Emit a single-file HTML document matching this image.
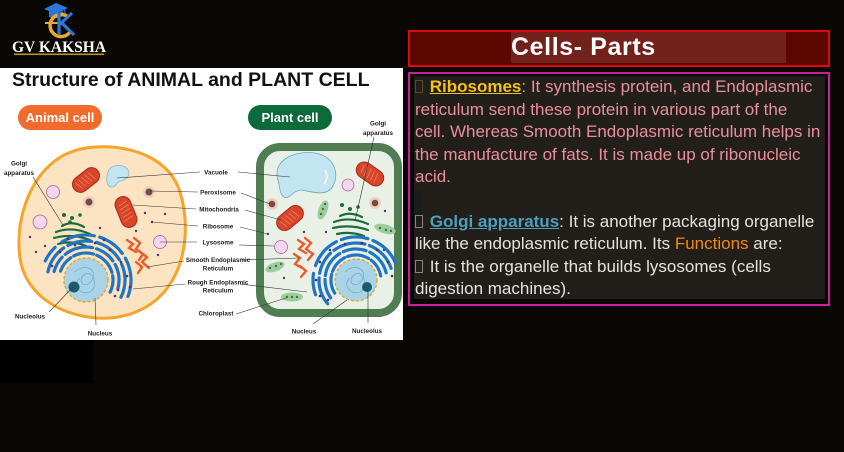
<!DOCTYPE html>
<html><head><meta charset="utf-8"><style>
html,body{margin:0;padding:0;}
body{width:844px;height:452px;background:#0a0603;position:relative;overflow:hidden;font-family:"Liberation Sans",Arial,sans-serif;}
.abs{position:absolute;}
.ln{position:absolute;left:415px;white-space:nowrap;font-size:17px;line-height:22px;height:22px;color:#e98f9b;}
.w{color:#e6e3df;}
.bx{display:inline-block;width:6px;height:11px;border:1px solid #8a8580;vertical-align:-1px;margin-right:2px;}
</style></head><body>
<!-- logo -->
<svg class="abs" style="left:0;top:0" width="120" height="62" viewBox="0 0 120 62">
  <polygon points="44,9 56,3 68,8 56,14" fill="#2a78d8"/>
  <path d="M49,11 L49,17 Q56,20 63,16 L63,11 L56,14 Z" fill="#2a78d8"/>
  <path d="M64,8 L66,16" stroke="#2a78d8" stroke-width="1.2"/>
  <path d="M68,17 A11,11 0 1,0 70,32" fill="none" stroke="#f0a82a" stroke-width="3.5"/>
  <line x1="45" y1="23" x2="62" y2="23" stroke="#f0a82a" stroke-width="2"/>
  <path d="M59,13 L59,35 M59,25 L72,13 M62,23 L74,35" stroke="#2a78d8" stroke-width="3.2" fill="none"/>
  <text x="59" y="52" text-anchor="middle" font-family="Liberation Serif,serif" font-weight="bold" font-size="15.5" fill="#fff">GV KAKSHA</text>
  <rect x="14" y="53.5" width="90" height="1.6" fill="#b8962a"/>
</svg>
<div class="abs" style="left:0;top:340px;width:93px;height:43px;background:#000"></div>
<!-- diagram -->
<svg class="abs" style="left:0;top:68px" width="403" height="272" viewBox="0 68 403 272">
  <rect x="0" y="68" width="403" height="272" fill="#fff"/>
  <text x="12" y="86" font-family="Liberation Sans,sans-serif" font-weight="bold" font-size="19.5" fill="#111">Structure of ANIMAL and PLANT CELL</text>
  <rect x="18" y="105" width="84" height="25" rx="12.5" fill="#f26a2c"/>
  <text x="60" y="122" text-anchor="middle" font-family="Liberation Sans,sans-serif" font-weight="bold" font-size="13" fill="#fff">Animal cell</text>
  <rect x="248" y="105" width="84" height="25" rx="12.5" fill="#0d6a3a"/>
  <text x="290" y="122" text-anchor="middle" font-family="Liberation Sans,sans-serif" font-weight="bold" font-size="13" fill="#fff">Plant cell</text>

  <!-- animal cell -->
  <path d="M95 147 C135 145 170 160 180 192 C190 225 186 262 168 287 C150 312 118 322 88 317 C55 312 25 292 20 258 C15 222 28 185 50 165 C62 154 78 148 95 147 Z" fill="#fce3c2" stroke="#f5a52a" stroke-width="3"/>
  <path d="M108 172 C110 164 124 163 128 170 C131 176 126 180 120 181 C116 182 116 188 111 187 C106 186 106 178 108 172 Z" fill="#c3e5f2" stroke="#7fb6cc" stroke-width="0.8"/>
  <g transform="translate(86 180) rotate(-38)"><rect x="-15" y="-8" width="30" height="16" rx="8" fill="#d8452a" stroke="#a22a18" stroke-width="1"/><path d="M-10,-4 L-8,4 M-6,-5 L-4,5 M-2,-5 L0,5 M2,-5 L4,5 M6,-5 L8,5" stroke="#f08a5a" stroke-width="0.7"/></g>
  <g transform="translate(126 212) rotate(68)"><rect x="-16" y="-8" width="32" height="16" rx="8" fill="#d8452a" stroke="#a22a18" stroke-width="1"/><path d="M-10,-4 L-8,4 M-6,-5 L-4,5 M-2,-5 L0,5 M2,-5 L4,5 M6,-5 L8,5" stroke="#f08a5a" stroke-width="0.7"/></g>
  <circle cx="149" cy="192" r="6" fill="#ebcfc4"/><circle cx="149" cy="192" r="3.5" fill="#7a4a3a"/>
  <circle cx="89" cy="202" r="6" fill="#ebcfc4"/><circle cx="89" cy="202" r="3.5" fill="#7a4a3a"/>
  <g fill="#f4d6ec" stroke="#a868a0" stroke-width="0.8"><circle cx="53" cy="192" r="6.5"/><circle cx="40" cy="222" r="7"/><circle cx="160" cy="242" r="6.5"/></g>
  <g stroke="#1d6b3a" stroke-width="2.2" fill="none" stroke-linecap="round">
    <path d="M56 232 Q72 226 90 234"/><path d="M54 238 Q72 233 90 240"/><path d="M58 244 Q72 240 86 246"/><path d="M62 226 Q72 220 84 227"/>
  </g>
  <g fill="#1d6b3a"><circle cx="64" cy="215" r="2"/><circle cx="72" cy="218" r="2"/><circle cx="80" cy="215" r="1.8"/><circle cx="70" cy="222" r="1.8"/></g>
  <g fill="#5b2a7c"><circle cx="145" cy="213" r="1.2"/><circle cx="165" cy="214" r="1.2"/><circle cx="152" cy="222" r="1.2"/><circle cx="136" cy="231" r="1.2"/><circle cx="100" cy="228" r="1.2"/><circle cx="30" cy="237" r="1.2"/><circle cx="45" cy="246" r="1.2"/><circle cx="158" cy="255" r="1.2"/><circle cx="36" cy="252" r="1.2"/></g>
  <g fill="none" stroke="#1f74c4" stroke-width="3.2" stroke-linecap="round">
    <circle cx="86" cy="280" r="27" pathLength="100" stroke-dasharray="10 2 12 2 14 2 10 48" transform="rotate(200 86 280)"/>
    <circle cx="86" cy="280" r="33" pathLength="100" stroke-dasharray="8 2 14 2 10 2 12 50" transform="rotate(195 86 280)"/>
    <circle cx="86" cy="280" r="39" pathLength="100" stroke-dasharray="12 2 10 2 12 2 14 46" transform="rotate(192 86 280)"/>
    <circle cx="86" cy="280" r="45" pathLength="100" stroke-dasharray="6 3 12 2 10 2 14 51" transform="rotate(205 86 280)"/>
  </g>
  <g fill="#5b2a7c"><circle cx="60" cy="252" r="1.3"/><circle cx="75" cy="245" r="1.3"/><circle cx="95" cy="243" r="1.3"/><circle cx="110" cy="250" r="1.3"/><circle cx="121" cy="262" r="1.3"/><circle cx="127" cy="276" r="1.3"/><circle cx="118" cy="290" r="1.3"/><circle cx="52" cy="266" r="1.3"/><circle cx="104" cy="240" r="1.3"/><circle cx="68" cy="239" r="1.3"/><circle cx="115" cy="296" r="1.3"/><circle cx="130" cy="287" r="1.3"/></g>
  <g stroke="#f0592a" stroke-width="2.4" fill="none" stroke-linecap="round">
    <path d="M127 240 L133 244 L129 248 L136 252"/><path d="M134 238 L140 243 L136 249 L143 254 L139 260"/><path d="M140 252 L147 257 L142 262 L149 268"/><path d="M136 262 L142 267 L138 273"/>
  </g>
  <circle cx="86" cy="280" r="22" fill="#a9d3e6" stroke="#e8a020" stroke-width="1.3" stroke-dasharray="3 2"/>
  <path d="M75 272 C85 262 98 270 92 280 C86 290 76 282 84 275 C92 268 100 286 90 292 C80 296 72 284 80 278" fill="none" stroke="#6aa0c0" stroke-width="0.6"/>
  <circle cx="74" cy="287" r="5.5" fill="#1d5a6e"/>

  <!-- plant cell -->
  <rect x="260" y="147" width="138" height="166" rx="20" fill="#e9f1e6" stroke="#517d53" stroke-width="8"/>
  <path d="M278 180 C272 162 292 150 315 153 C333 156 340 172 333 186 C327 197 312 192 302 190 C292 190 290 200 284 197 C280 195 280 188 278 180 Z" fill="#c3e5f2" stroke="#6fa6bc" stroke-width="0.8"/>
  <path d="M325 170 Q329 178 324 184" stroke="#fff" stroke-width="1.5" fill="none"/>
  <g transform="translate(290 218) rotate(-40)"><rect x="-15" y="-8" width="30" height="16" rx="8" fill="#d8452a" stroke="#a22a18" stroke-width="1"/><path d="M-10,-4 L-8,4 M-6,-5 L-4,5 M-2,-5 L0,5 M2,-5 L4,5 M6,-5 L8,5" stroke="#f08a5a" stroke-width="0.7"/></g>
  <g transform="translate(370 174) rotate(35)"><rect x="-15" y="-8" width="30" height="16" rx="8" fill="#d8452a" stroke="#a22a18" stroke-width="1"/><path d="M-10,-4 L-8,4 M-6,-5 L-4,5 M-2,-5 L0,5 M2,-5 L4,5 M6,-5 L8,5" stroke="#f08a5a" stroke-width="0.7"/></g>
  <circle cx="272" cy="204" r="6" fill="#ebcfc4"/><circle cx="272" cy="204" r="3.3" fill="#7a4a3a"/>
  <circle cx="375" cy="203" r="6" fill="#ebcfc4"/><circle cx="375" cy="203" r="3.3" fill="#7a4a3a"/>
  <g fill="#f4d6ec" stroke="#a868a0" stroke-width="0.8"><circle cx="348" cy="185" r="6"/><circle cx="281" cy="247" r="6.5"/></g>
  <g fill="#9fcc9f"><ellipse cx="323" cy="210" rx="10" ry="4.5" transform="rotate(-70 323 210)"/><ellipse cx="385" cy="229" rx="11" ry="4.5" transform="rotate(15 385 229)"/><ellipse cx="275" cy="267" rx="10" ry="4.5" transform="rotate(-20 275 267)"/><ellipse cx="292" cy="297" rx="11" ry="4.5"/></g>
  <g fill="#2e7d3e"><circle cx="321" cy="214" r="1.2"/><circle cx="323" cy="209" r="1.2"/><circle cx="325" cy="204" r="1.2"/><circle cx="380" cy="228" r="1.2"/><circle cx="386" cy="230" r="1.2"/><circle cx="391" cy="231" r="1.2"/><circle cx="270" cy="268" r="1.2"/><circle cx="276" cy="266" r="1.2"/><circle cx="281" cy="264" r="1.2"/><circle cx="287" cy="297" r="1.2"/><circle cx="292" cy="297" r="1.2"/><circle cx="297" cy="297" r="1.2"/></g>
  <g stroke="#1d6b3a" stroke-width="2.2" fill="none" stroke-linecap="round">
    <path d="M334 222 Q350 216 368 224"/><path d="M333 228 Q350 224 368 230"/><path d="M337 234 Q350 231 364 236"/><path d="M340 216 Q350 211 362 217"/>
  </g>
  <g fill="#1d6b3a"><circle cx="342" cy="205" r="2"/><circle cx="350" cy="209" r="2"/><circle cx="358" cy="207" r="1.8"/></g>
  <g fill="#5b2a7c"><circle cx="304" cy="232" r="1.2"/><circle cx="268" cy="234" r="1.2"/><circle cx="326" cy="232" r="1.2"/><circle cx="385" cy="211" r="1.2"/><circle cx="384" cy="250" r="1.2"/><circle cx="284" cy="278" r="1.2"/></g>
  <g fill="none" stroke="#1f74c4" stroke-width="3.2" stroke-linecap="round">
    <circle cx="356" cy="280" r="25" pathLength="100" stroke-dasharray="12 2 12 2 14 2 12 44" transform="rotate(150 356 280)"/>
    <circle cx="356" cy="280" r="31" pathLength="100" stroke-dasharray="10 2 14 2 12 2 14 44" transform="rotate(145 356 280)"/>
    <circle cx="356" cy="280" r="37" pathLength="100" stroke-dasharray="12 2 10 2 14 2 14 44" transform="rotate(140 356 280)"/>
    <circle cx="356" cy="280" r="43" pathLength="100" stroke-dasharray="8 3 12 2 10 2 12 51" transform="rotate(160 356 280)"/>
  </g>
  <g fill="#5b2a7c"><circle cx="320" cy="262" r="1.3"/><circle cx="330" cy="250" r="1.3"/><circle cx="345" cy="244" r="1.3"/><circle cx="362" cy="243" r="1.3"/><circle cx="377" cy="250" r="1.3"/><circle cx="388" cy="262" r="1.3"/><circle cx="316" cy="280" r="1.3"/><circle cx="320" cy="296" r="1.3"/><circle cx="392" cy="276" r="1.3"/><circle cx="328" cy="300" r="1.3"/></g>
  <g stroke="#f0592a" stroke-width="2.4" fill="none" stroke-linecap="round">
    <path d="M298 240 L304 244 L299 249 L306 253"/><path d="M305 238 L311 243 L306 249 L313 254 L308 260"/><path d="M294 254 L300 258 L295 264 L302 268"/><path d="M300 266 L306 271 L301 277"/>
  </g>
  <circle cx="356" cy="280" r="21" fill="#a9d3e6" stroke="#e8a020" stroke-width="1.3" stroke-dasharray="3 2"/>
  <path d="M345 272 C355 262 368 270 362 280 C356 290 346 282 354 275 C362 268 370 286 360 292 C350 296 342 284 350 278" fill="none" stroke="#6aa0c0" stroke-width="0.6"/>
  <circle cx="367" cy="287" r="5" fill="#1d5a6e"/>

  <g stroke="#333" stroke-width="0.6" fill="none">
    <path d="M117 178 L200 172"/><path d="M150 191 L198 192"/><path d="M133 205 L196 209"/><path d="M152 222 L198 226"/><path d="M160 242 L197 242"/><path d="M147 267 L184 261"/><path d="M133 289 L185 284"/>
    <path d="M238 172 L290 177"/><path d="M241 193 L270 204"/><path d="M245 210 L281 220"/><path d="M240 227 L268 234"/><path d="M239 245 L274 246"/><path d="M242 260 L299 258"/><path d="M240 284 L307 292"/><path d="M236 314 L286 298"/>
    <path d="M374 137 L355 221"/><path d="M313 324 L347 300"/><path d="M368 323 L368 290"/>
    <path d="M33 177 L63 225"/><path d="M49 312 L73 287"/><path d="M96 325 L95 298"/>
  </g>
  <g font-family="Liberation Sans,sans-serif" font-weight="bold" font-size="6.3" fill="#222" text-anchor="middle">
    <text x="216" y="174.5">Vacuole</text>
    <text x="218" y="194.5">Peroxisome</text>
    <text x="219" y="211.5">Mitochondria</text>
    <text x="218" y="228.5">Ribosome</text>
    <text x="218" y="244.5">Lysosome</text>
    <text x="218" y="262">Smooth Endoplasmic</text>
    <text x="218" y="270.5">Reticulum</text>
    <text x="218" y="284.5">Rough Endoplasmic</text>
    <text x="218" y="292.5">Reticulum</text>
    <text x="216" y="315.5">Chloroplast</text>
    <text x="19" y="165.5">Golgi</text>
    <text x="19" y="175">apparatus</text>
    <text x="378" y="125.5">Golgi</text>
    <text x="378" y="135">apparatus</text>
    <text x="30" y="318.5">Nucleolus</text>
    <text x="100" y="335.5">Nucleus</text>
    <text x="304" y="333.5">Nucleus</text>
    <text x="367" y="333">Nucleolus</text>
  </g>
</svg>

<div class="abs" style="left:408px;top:30px;width:418px;height:33px;background:#5c0800;border:2px solid #d80a0a;"></div>
<div class="abs" style="left:511px;top:32px;width:275px;height:31px;background:#72211b;"></div>
<div class="abs" style="left:511px;top:32px;font-weight:bold;font-size:25px;line-height:31px;color:#fff;letter-spacing:0.6px;white-space:nowrap;">Cells- Parts</div>

<div class="abs" style="left:408px;top:72px;width:418px;height:230px;border:2px solid #c81ea0;"></div>
<div class="abs" style="left:414px;top:76px;width:411px;height:223px;background:#221f1b;"></div>
<div class="abs" style="left:414px;top:190px;width:8px;height:32px;background:#1c1c1e;"></div>

<div class="ln" style="top:76px"><span class="bx" style="border-color:#5e4c1a"></span> <span style="color:#f2c218;font-weight:bold;text-decoration:underline">Ribosomes</span>: It synthesis protein, and Endoplasmic</div>
<div class="ln" style="top:99px">reticulum send these protein in various part of the</div>
<div class="ln" style="top:121px">cell. Whereas Smooth Endoplasmic reticulum helps in</div>
<div class="ln" style="top:144px">the manufacture of fats. It is made up of ribonucleic</div>
<div class="ln" style="top:166px">acid.</div>
<div class="ln w" style="top:211px"><span class="bx"></span> <span style="color:#4b9fbf;font-weight:bold;text-decoration:underline">Golgi apparatus</span>: It is another packaging organelle</div>
<div class="ln w" style="top:233px">like the endoplasmic reticulum. Its <span style="color:#f08a10">Functions</span> are:</div>
<div class="ln w" style="top:256px"><span class="bx"></span> It is the organelle that builds lysosomes (cells</div>
<div class="ln w" style="top:278px">digestion machines).</div>
</body></html>
